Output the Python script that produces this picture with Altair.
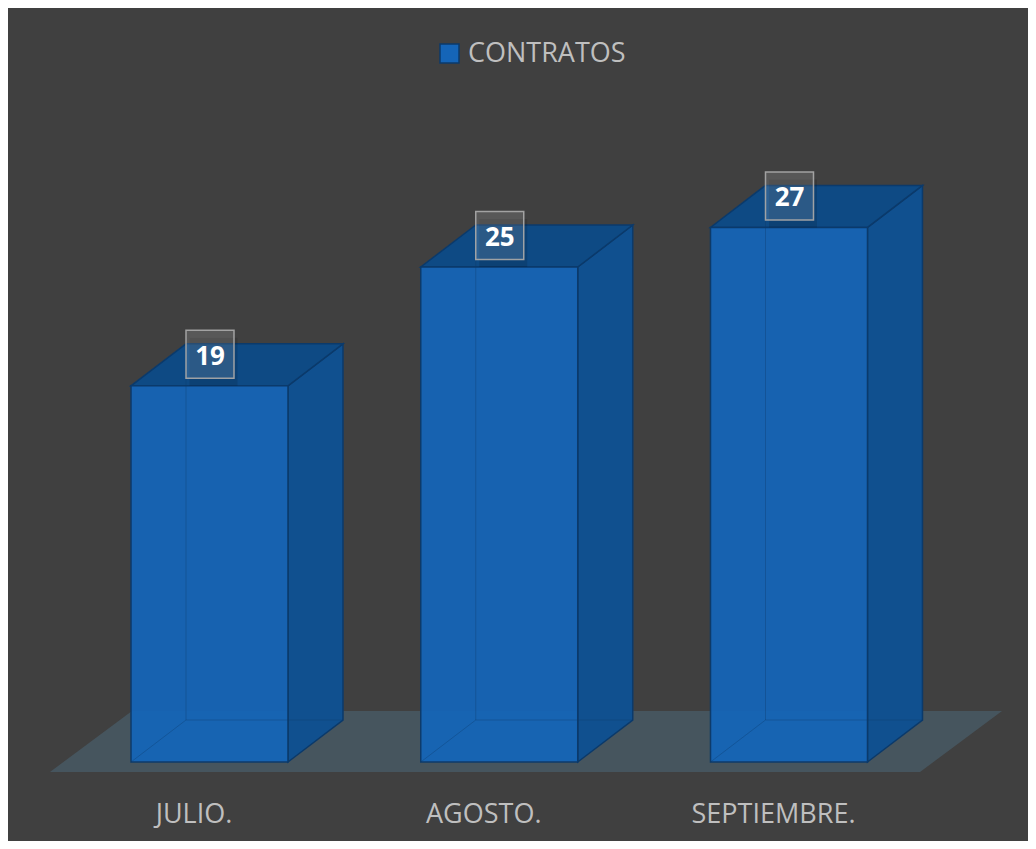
import altair as alt
import pandas as pd

# ---- data ----
categories = ["JULIO.", "AGOSTO.", "SEPTIEMBRE."]
values = [19, 25, 27]
series_name = "CONTRATOS"

# ---- style / geometry constants (data units) ----
BG = "#404040"
FRONT = "#1565b8"
SIDE = "#10508f"
TOP = "#0e4a84"
EDGE = "#0b3a6b"
FLOOR = "#46555e"
TXT = "#bfbfbf"

HALF_W = 0.2709      # half bar width (category units)
DX = 0.1898          # bar depth, x (category units)
DY = 2.121           # bar depth, y (value units)
F_LEFT = -0.5505     # floor extent relative to first / last category
F_RIGHT = 0.4521
F_Y0 = -0.505
F_DX = 0.283
F_DY = 3.081

W, H = 1020, 833
xs = alt.Scale(domain=[-0.69543, 2.82485], nice=False, zero=False)
ys = alt.Scale(domain=[-3.9899, 38.0808], nice=False, zero=False)

n = len(categories)
base = pd.DataFrame({"pos": list(range(n)), "cat": categories, "val": values,
                     "serie": [series_name] * n})
base["x0"] = base["pos"] - HALF_W
base["x1"] = base["pos"] + HALF_W
base["zero"] = 0.0

top_rows, side_rows, edge_rows = [], [], []
for i, v in enumerate(values):
    x0, x1 = i - HALF_W, i + HALF_W
    top_rows += [dict(pos=i, yy=v, xa=x0, xb=x1),
                 dict(pos=i, yy=v + DY, xa=x0 + DX, xb=x1 + DX)]
    side_rows += [dict(pos=i, xx=x1, ya=0.0, yb=v),
                  dict(pos=i, xx=x1 + DX, ya=DY, yb=v + DY)]
    edge_rows += [dict(ex=x0 + DX, ey=DY, ex2=x0 + DX, ey2=v + DY),
                  dict(ex=x0 + DX, ey=DY, ex2=x1 + DX, ey2=DY),
                  dict(ex=x0, ey=0.0, ex2=x0 + DX, ey2=DY)]
top_df = pd.DataFrame(top_rows)
side_df = pd.DataFrame(side_rows)
edge_df = pd.DataFrame(edge_rows)

floor_df = pd.DataFrame([
    dict(yy=F_Y0, xa=0 + F_LEFT, xb=(n - 1) + F_RIGHT),
    dict(yy=F_Y0 + F_DY, xa=0 + F_LEFT + F_DX, xb=(n - 1) + F_RIGHT + F_DX),
])

floor = alt.Chart(floor_df).mark_area(orient="horizontal", color=FLOOR).encode(
    y=alt.Y("yy:Q", scale=ys, axis=None),
    x=alt.X("xa:Q", scale=xs, axis=None),
    x2="xb:Q",
)

side = alt.Chart(side_df).mark_area(orient="vertical", color=SIDE, stroke=EDGE,
                                    strokeWidth=1.5).encode(
    x=alt.X("xx:Q", scale=xs, axis=None),
    y=alt.Y("ya:Q", scale=ys, axis=None),
    y2="yb:Q",
    detail="pos:N",
)

top = alt.Chart(top_df).mark_area(orient="horizontal", color=TOP, stroke=EDGE,
                                  strokeWidth=1.5).encode(
    y=alt.Y("yy:Q", scale=ys, axis=None),
    x=alt.X("xa:Q", scale=xs, axis=None),
    x2="xb:Q",
    detail="pos:N",
)

front = alt.Chart(base).mark_rect(stroke=EDGE, strokeWidth=1.5, opacity=0.94).encode(
    x=alt.X("x0:Q", scale=xs, axis=None),
    x2="x1:Q",
    y=alt.Y("zero:Q", scale=ys, axis=None),
    y2="val:Q",
    color=alt.Color("serie:N",
                    scale=alt.Scale(domain=[series_name], range=[FRONT]),
                    legend=alt.Legend(orient="none", legendX=428, legendY=32,
                                      title=None, symbolType="square",
                                      symbolSize=361, symbolStrokeColor=EDGE,
                                      symbolStrokeWidth=1.5, symbolOpacity=1,
                                      labelFont="Open Sans", labelFontSize=27,
                                      labelColor=TXT, labelOffset=5, padding=0)),
)

inner = alt.Chart(edge_df).mark_rule(color=EDGE, strokeWidth=1, opacity=0.35).encode(
    x=alt.X("ex:Q", scale=xs, axis=None),
    y=alt.Y("ey:Q", scale=ys, axis=None),
    x2="ex2:Q",
    y2="ey2:Q",
)

shadow = alt.Chart(base).mark_point(shape="square", filled=True, size=2304,
                                    color="black", opacity=0.12,
                                    yOffset=-24, xOffset=4).encode(
    x=alt.X("pos:Q", scale=xs, axis=None),
    y=alt.Y("val:Q", scale=ys, axis=None),
)

box = alt.Chart(base).mark_point(shape="square", size=2304, fill="white",
                                 fillOpacity=0.13, stroke="#a6a6a6",
                                 strokeWidth=1.5, strokeOpacity=0.95,
                                 yOffset=-31.5, xOffset=0.5).encode(
    x=alt.X("pos:Q", scale=xs, axis=None),
    y=alt.Y("val:Q", scale=ys, axis=None),
)

vlabel = alt.Chart(base).mark_text(font="Open Sans", fontWeight="bold", fontSize=26,
                                   color="white", baseline="alphabetic",
                                   align="center", dy=-21, dx=0.5).encode(
    x=alt.X("pos:Q", scale=xs, axis=None),
    y=alt.Y("val:Q", scale=ys, axis=None),
    text="val:Q",
)

clabel = alt.Chart(base).mark_text(font="Open Sans", fontSize=27, color=TXT,
                                   baseline="alphabetic", align="center",
                                   dx=-15.5).encode(
    x=alt.X("pos:Q", scale=xs, axis=None),
    y=alt.value(815),
    text="cat:N",
)

chart = alt.layer(floor, side, top, front, inner, shadow, box, vlabel, clabel).properties(
    width=W, height=H, padding=0,
    autosize=alt.AutoSizeParams(type="none"),
    background=BG,
).configure_view(stroke=None)

chart.save("out.html", embed_options={"renderer": "svg", "actions": False})
